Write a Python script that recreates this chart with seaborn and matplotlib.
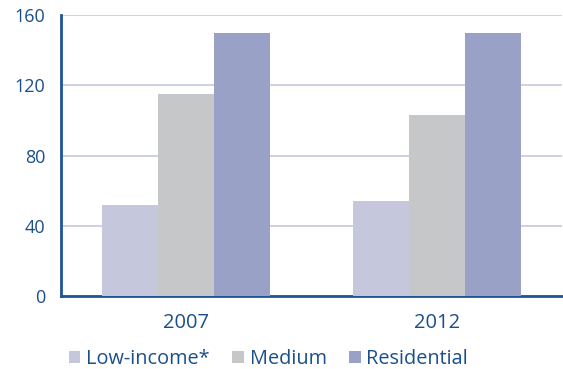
import numpy as np
import pandas as pd
import matplotlib
matplotlib.use('Agg')
import matplotlib.pyplot as plt
import seaborn as sns
from matplotlib.patches import Patch

# chart data
years = ['2007', '2012']
series = ['Low-income*', 'Medium', 'Residential']
low_income = [52, 54]
medium = [115, 103]
residential = [150, 150]
y_ticks = [0, 40, 80, 120, 160]

colors = ['#c5c8dd', '#c6c7c9', '#99a2c6']
text_color = '#1b4f8c'
axis_color = '#1f5595'
grid_color = '#c9cde2'

df = pd.DataFrame({
    'year': years * 3,
    'group': [s for s in series for _ in years],
    'value': low_income + medium + residential,
})

sns.set_theme(style='white')
plt.rcParams['font.family'] = ['Open Sans', 'DejaVu Sans']

fig = plt.figure(figsize=(5.63, 3.69), dpi=100)
ax = fig.add_axes([0.108, 0.198, 0.89, 0.761])

sns.barplot(data=df, x='year', y='value', hue='group', palette=colors,
            width=0.67, gap=0, saturation=1, legend=False, ax=ax, zorder=3,
            linewidth=0)

ax.set_ylim(0, 160)
ax.set_xlim(-0.5, 1.5)
ax.set_yticks(y_ticks)
ax.set_yticklabels([str(t) for t in y_ticks])
ax.yaxis.grid(True, color=grid_color, linewidth=1.3, zorder=0)
ax.set_axisbelow(True)
ax.set_xlabel('')
ax.set_ylabel('')

for side in ['top', 'right']:
    ax.spines[side].set_visible(False)
for side in ['left', 'bottom']:
    ax.spines[side].set_color(axis_color)
    ax.spines[side].set_linewidth(2)

ax.tick_params(axis='y', length=5, width=1.5, color=axis_color, labelsize=13,
               labelcolor=text_color, direction='out', pad=6)
ax.tick_params(axis='x', length=0, labelsize=14.5, labelcolor=text_color, pad=12)
ax.set_xticks([0.5, 1.5], minor=True)
ax.tick_params(axis='x', which='minor', length=5, width=1.2, color=axis_color,
               direction='in')
for lbl in ax.get_xticklabels() + ax.get_yticklabels():
    lbl.set_fontweight(500)

handles = [Patch(facecolor=c, edgecolor='none') for c in colors]
leg = fig.legend(handles, series, loc='lower left', bbox_to_anchor=(0.09, -0.048),
                 ncol=3, frameon=False, fontsize=14.3, handlelength=0.6, handleheight=0.6,
                 handletextpad=0.3, columnspacing=1.1, labelcolor=text_color)
for t in leg.get_texts():
    t.set_fontweight(500)

fig.savefig('out.png', dpi=100)
